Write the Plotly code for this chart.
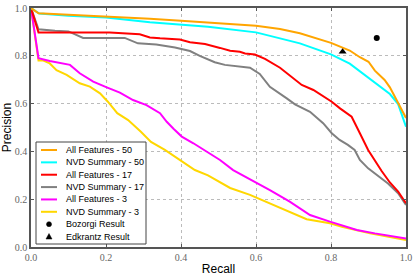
import plotly.graph_objects as go

# ---------------- data ----------------
recall_af50 = [0, 0.02, 0.1, 0.2, 0.317, 0.4, 0.472, 0.6, 0.664, 0.717, 0.8, 0.85, 0.877, 0.9, 0.917, 0.943, 0.957, 0.979, 1.0]
prec_af50 = [1.0, 0.978, 0.972, 0.965, 0.955, 0.947, 0.94, 0.926, 0.912, 0.894, 0.854, 0.822, 0.794, 0.775, 0.738, 0.699, 0.668, 0.605, 0.54]

recall_nvd50 = [0, 0.022, 0.1, 0.2, 0.317, 0.4, 0.472, 0.6, 0.637, 0.664, 0.717, 0.8, 0.85, 0.89, 0.93, 0.957, 0.979, 1.0]
prec_nvd50 = [1.0, 0.977, 0.968, 0.96, 0.94, 0.93, 0.922, 0.898, 0.882, 0.873, 0.852, 0.806, 0.767, 0.72, 0.675, 0.64, 0.598, 0.503]

recall_af17 = [0, 0.02, 0.1, 0.21, 0.29, 0.317, 0.344, 0.397, 0.424, 0.464, 0.504, 0.531, 0.557, 0.571, 0.597, 0.624, 0.664, 0.704, 0.722, 0.753, 0.802, 0.824, 0.855, 0.877, 0.899, 0.935, 0.957, 0.979, 1.0]
prec_af17 = [1.0, 0.898, 0.898, 0.898, 0.89, 0.877, 0.873, 0.868, 0.857, 0.849, 0.833, 0.821, 0.817, 0.81, 0.805, 0.787, 0.75, 0.699, 0.678, 0.657, 0.608, 0.58, 0.545, 0.476, 0.406, 0.318, 0.27, 0.232, 0.183]

recall_nvd17 = [0, 0.02, 0.064, 0.1, 0.139, 0.25, 0.285, 0.334, 0.384, 0.424, 0.45, 0.49, 0.517, 0.557, 0.584, 0.61, 0.637, 0.682, 0.704, 0.744, 0.779, 0.802, 0.823, 0.845, 0.863, 0.877, 0.899, 0.952, 0.979, 1.0]
prec_nvd17 = [1.0, 0.911, 0.905, 0.902, 0.875, 0.875, 0.852, 0.847, 0.835, 0.82, 0.8, 0.773, 0.762, 0.755, 0.75, 0.724, 0.67, 0.622, 0.597, 0.566, 0.518, 0.476, 0.448, 0.427, 0.406, 0.364, 0.329, 0.266, 0.225, 0.176]

recall_af3 = [0, 0.02, 0.05, 0.077, 0.104, 0.13, 0.166, 0.202, 0.237, 0.272, 0.308, 0.344, 0.362, 0.38, 0.402, 0.433, 0.469, 0.504, 0.539, 0.597, 0.637, 0.69, 0.726, 0.744, 0.797, 0.869, 0.917, 1.0]
prec_af3 = [1.0, 0.79, 0.778, 0.77, 0.762, 0.727, 0.692, 0.668, 0.646, 0.615, 0.594, 0.56, 0.524, 0.495, 0.462, 0.434, 0.399, 0.364, 0.322, 0.273, 0.238, 0.19, 0.155, 0.134, 0.106, 0.071, 0.057, 0.036]

recall_nvd3 = [0, 0.02, 0.033, 0.05, 0.068, 0.095, 0.13, 0.157, 0.184, 0.205, 0.23, 0.259, 0.293, 0.32, 0.357, 0.397, 0.437, 0.472, 0.504, 0.531, 0.584, 0.637, 0.69, 0.735, 0.797, 0.829, 0.904, 1.0]
prec_nvd3 = [1.0, 0.78, 0.78, 0.768, 0.74, 0.72, 0.685, 0.671, 0.643, 0.608, 0.56, 0.531, 0.482, 0.44, 0.406, 0.364, 0.322, 0.3, 0.273, 0.247, 0.218, 0.183, 0.148, 0.116, 0.099, 0.085, 0.057, 0.029]

bozorgi_recall = [0.922]
bozorgi_precision = [0.874]
edkrantz_recall = [0.831]
edkrantz_precision = [0.817]

series_names = ["All Features - 50", "NVD Summary - 50", "All Features - 17",
                "NVD Summary - 17", "All Features - 3", "NVD Summary - 3"]
series_colors = ["#FFA500", "#00FFFF", "#FF0000", "#808080", "#FF00FF", "#FFD700"]
point_names = ["Bozorgi Result", "Edkrantz Result"]
tick_values = [0.0, 0.2, 0.4, 0.6, 0.8, 1.0]
tick_labels = ["0.0", "0.2", "0.4", "0.6", "0.8", "1.0"]

series_x = [recall_af50, recall_nvd50, recall_af17, recall_nvd17, recall_af3, recall_nvd3]
series_y = [prec_af50, prec_nvd50, prec_af17, prec_nvd17, prec_af3, prec_nvd3]

# ---------------- figure ----------------
W, H = 416, 277
L, R, T, B = 31, 406, 8, 247  # plot area in pixels

def px(x):
    return (x - L) / (R - L)

def py(y):
    return (B - y) / (B - T)

fig = go.Figure()
# draw in reverse so that first series sits on top
for name, col, xs, ys in reversed(list(zip(series_names, series_colors, series_x, series_y))):
    fig.add_trace(go.Scatter(x=xs, y=ys, mode="lines", name=name,
                             line=dict(color=col, width=2), showlegend=False))

fig.add_trace(go.Scatter(x=bozorgi_recall, y=bozorgi_precision, mode="markers",
                         name=point_names[0], showlegend=False,
                         marker=dict(symbol="circle", size=6, color="black")))
fig.add_trace(go.Scatter(x=edkrantz_recall, y=edkrantz_precision, mode="markers",
                         name=point_names[1], showlegend=False,
                         marker=dict(symbol="triangle-up", size=7, color="black")))

# ---------------- manual legend ----------------
shapes = []
annotations = []
shapes.append(dict(type="rect", xref="paper", yref="paper",
                   x0=px(36), x1=px(146), y0=py(244), y1=py(142),
                   line=dict(color="#444444", width=1), fillcolor="white", layer="above"))
row0, step = 150.0, 12.36
labels = series_names + point_names
for i, lab in enumerate(labels):
    yc = row0 + step * i
    if i < len(series_names):
        shapes.append(dict(type="line", xref="paper", yref="paper",
                           x0=px(41), x1=px(57), y0=py(yc), y1=py(yc),
                           line=dict(color=series_colors[i], width=2), layer="above"))
    elif i == len(series_names):
        shapes.append(dict(type="circle", xref="paper", yref="paper",
                           x0=px(46.5), x1=px(51.5), y0=py(yc + 2.5), y1=py(yc - 2.5),
                           line=dict(color="black", width=0.5), fillcolor="black", layer="above"))
    else:
        path = "M %f %f L %f %f L %f %f Z" % (px(46), py(yc + 2.5), px(52), py(yc + 2.5), px(49), py(yc - 3))
        shapes.append(dict(type="path", xref="paper", yref="paper", path=path,
                           line=dict(color="black", width=0.5), fillcolor="black", layer="above"))
    annotations.append(dict(text=lab, xref="paper", yref="paper", x=px(64), y=py(yc),
                            xanchor="left", yanchor="middle", showarrow=False,
                            font=dict(family="Liberation Sans, Arial, sans-serif", size=9, color="black")))

axis_common = dict(range=[0, 1], tickvals=tick_values, ticktext=tick_labels,
                   showline=True, linecolor="#555555", linewidth=1.5, mirror="ticks",
                   ticks="inside", ticklen=3, tickcolor="#555555",
                   showgrid=True, gridcolor="#BBBBBB", griddash="dot", gridwidth=1,
                   zeroline=False, automargin=False,
                   tickfont=dict(family="Liberation Serif, Times New Roman, serif", size=10, color="#666666"))

fig.update_layout(
    width=W, height=H,
    margin=dict(l=L, r=W - R, t=T, b=H - B, pad=0),
    paper_bgcolor="white", plot_bgcolor="white",
    xaxis=dict(**axis_common, title=dict(text="Recall", standoff=3,
               font=dict(family="Liberation Sans, Arial, sans-serif", size=12, color="black"))),
    yaxis=dict(**axis_common, title=dict(text="Precision", standoff=3,
               font=dict(family="Liberation Sans, Arial, sans-serif", size=12, color="black"))),
    shapes=shapes, annotations=annotations, showlegend=False,
)

fig.write_html("out.html", config={"displayModeBar": False},
               post_script="document.body.style.margin='0';document.body.style.overflow='hidden';")
